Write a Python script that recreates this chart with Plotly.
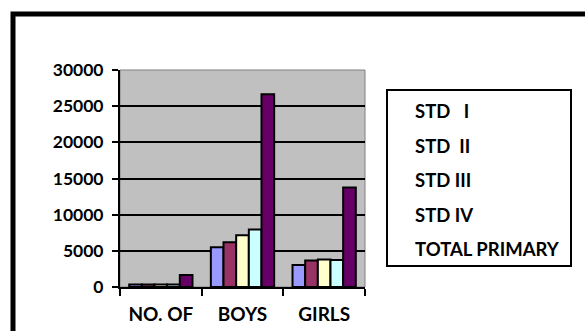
import plotly.graph_objects as go

categories = ["NO. OF", "BOYS", "GIRLS"]
series_names = ["STD\u00a0\u00a0\u00a0I", "STD\u00a0\u00a0II", "STD\u00a0III", "STD\u00a0IV", "TOTAL PRIMARY"]
std1 = [350, 5500, 3050]
std2 = [350, 6200, 3650]
std3 = [350, 7150, 3800]
std4 = [350, 7950, 3750]
total = [1650, 26650, 13750]
series_values = [std1, std2, std3, std4, total]
colors = ["#9999FF", "#993366", "#FFFFCC", "#CCFFFF", "#660066"]
y_ticks = [0, 5000, 10000, 15000, 20000, 25000, 30000]

FONT = "Lato"
W, H = 585, 331
L, R, T, B = 120, 220, 70, 44
pw, ph = W - L - R, H - T - B

def px(x):
    return (x - L) / pw

def py(y):
    return (H - B - y) / ph

fig = go.Figure()
for name, vals, col in zip(series_names, series_values, colors):
    fig.add_trace(go.Bar(x=categories, y=vals, name=name,
                         marker=dict(color=col, line=dict(color="black", width=2)),
                         showlegend=False))

shapes = [
    dict(type="rect", xref="paper", yref="paper", x0=0, x1=1, y0=0, y1=1,
         line=dict(color="#808080", width=1), layer="below"),
    dict(type="rect", xref="paper", yref="paper", x0=px(13), x1=px(620), y0=py(14), y1=py(360),
         line=dict(color="black", width=5)),
    dict(type="rect", xref="paper", yref="paper", x0=px(387), x1=px(571), y0=py(90), y1=py(266),
         line=dict(color="black", width=2)),
]

annotations = []
legend_y = [111, 145.5, 180, 214.5, 249]
for name, yy in zip(series_names, legend_y):
    annotations.append(dict(text=name, xref="paper", yref="paper",
                            x=px(413), y=py(yy), xanchor="left", yanchor="middle",
                            showarrow=False,
                            font=dict(family=FONT, size=18.5, color="black", weight="bold")))

fig.update_layout(
    width=W, height=H,
    margin=dict(l=L, r=R, t=T, b=B, autoexpand=False),
    paper_bgcolor="white",
    plot_bgcolor="#C0C0C0",
    barmode="group",
    bargap=0.225,
    bargroupgap=0,
    shapes=shapes,
    annotations=annotations,
    font=dict(family=FONT, size=14, color="black"),
    xaxis=dict(showline=True, linecolor="black", linewidth=2, ticks="outside",
               tickson="boundaries", ticklen=7, tickwidth=2, tickcolor="black",
               showgrid=False, automargin=False,
               tickfont=dict(family=FONT, size=19, color="black", weight="bold"),
               ticklabelstandoff=9),
    yaxis=dict(range=[0, 30000], tickvals=y_ticks, tickformat="d",
               showline=True, linecolor="black", linewidth=2, ticks="outside",
               ticklen=6, tickwidth=2, tickcolor="black", automargin=False,
               showgrid=True, gridcolor="black", gridwidth=2, zeroline=False,
               tickfont=dict(family=FONT, size=17.5, color="black", weight="bold"),
               ticklabelstandoff=5),
)

fig.write_html("out.html")
